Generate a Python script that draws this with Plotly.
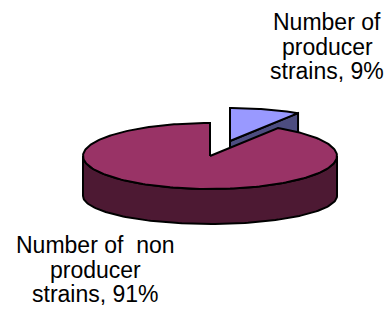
import numpy as np
import plotly.graph_objects as go

# ---- data ----
categories = ["Number of producer strains", "Number of  non producer strains"]
label_lines = [["Number of", "producer", "strains"], ["Number of  non", "producer", "strains"]]
values = [9, 91]
slice_top_colors = ["#9999FF", "#993366"]
slice_side_colors = ["#4D4D80", "#4D1933"]

# ---- geometry / style (pixel space) ----
W, H = 386, 324
cx, cy = 210, 156      # top ellipse centre
a, b = 127, 33         # top ellipse radii
h = 40                 # thickness at sides
b2 = 28                # bottom ellipse vertical radius
explode = (20, -15)    # offset of the small slice

total = sum(values)
fracs = [v / total for v in values]
start = 90.0
angles = []
for f in fracs:
    end = start - f * 360.0
    angles.append((start, end))
    start = end

def top_pt(t, ox=0, oy=0):
    r = np.radians(t)
    return cx + ox + a * np.cos(r), cy + oy - b * np.sin(r)

def bot_pt(t, ox=0, oy=0):
    r = np.radians(t)
    return cx + ox + a * np.cos(r), cy + h + oy - b2 * np.sin(r)

fig = go.Figure()
line = dict(color="black", width=2)

# small slice (exploded)
s0, e0 = angles[0]
ox, oy = explode
vx, vy = cx + ox, cy + oy
rx, ry = top_pt(e0, ox, oy)
fig.add_trace(go.Scatter(
    x=[vx, rx, rx, vx, vx], y=[vy, ry, ry + h - 6, vy + h - 6, vy],
    fill="toself", fillcolor=slice_side_colors[0], line=line, mode="lines",
    hoverinfo="skip", showlegend=False))
ts = np.linspace(s0, e0, 40)
px = [vx] + [top_pt(t, ox, oy)[0] for t in ts] + [vx]
py = [vy] + [top_pt(t, ox, oy)[1] for t in ts] + [vy]
fig.add_trace(go.Scatter(x=px, y=py, fill="toself", fillcolor=slice_top_colors[0],
                         line=line, mode="lines", hoverinfo="skip", showlegend=False))

# big slice side (front half)
s1, e1 = angles[1]
ts = np.linspace(0, -180, 120)
sx = [top_pt(t)[0] for t in ts] + [bot_pt(t)[0] for t in ts[::-1]]
sy = [top_pt(t)[1] for t in ts] + [bot_pt(t)[1] for t in ts[::-1]]
fig.add_trace(go.Scatter(x=sx + [sx[0]], y=sy + [sy[0]], fill="toself",
                         fillcolor=slice_side_colors[1], line=line, mode="lines",
                         hoverinfo="skip", showlegend=False))
# big slice top
ts = np.linspace(s1, e1, 240)
px = [cx] + [top_pt(t)[0] for t in ts] + [cx]
py = [cy] + [top_pt(t)[1] for t in ts] + [cy]
fig.add_trace(go.Scatter(x=px, y=py, fill="toself", fillcolor=slice_top_colors[1],
                         line=line, mode="lines", hoverinfo="skip", showlegend=False))

# labels, one annotation per line
font = dict(family="Liberation Sans, Arial, sans-serif", size=23, color="black")
label_pos = [(327, 22), (95, 245)]
line_gap = 24.5
for i, (lx, ly) in enumerate(label_pos):
    lines = list(label_lines[i])
    lines[-1] = f"{lines[-1]}, {values[i]}%"
    for k, txt in enumerate(lines):
        fig.add_annotation(x=lx, y=ly + k * line_gap, text=txt, showarrow=False,
                           font=font, xanchor="center", yanchor="middle")

fig.update_xaxes(range=[0, W], visible=False, fixedrange=True)
fig.update_yaxes(range=[H, 0], visible=False, fixedrange=True)
fig.update_layout(width=W, height=H, margin=dict(l=0, r=0, t=0, b=0),
                  paper_bgcolor="white", plot_bgcolor="white")
fig.write_html("out.html")
